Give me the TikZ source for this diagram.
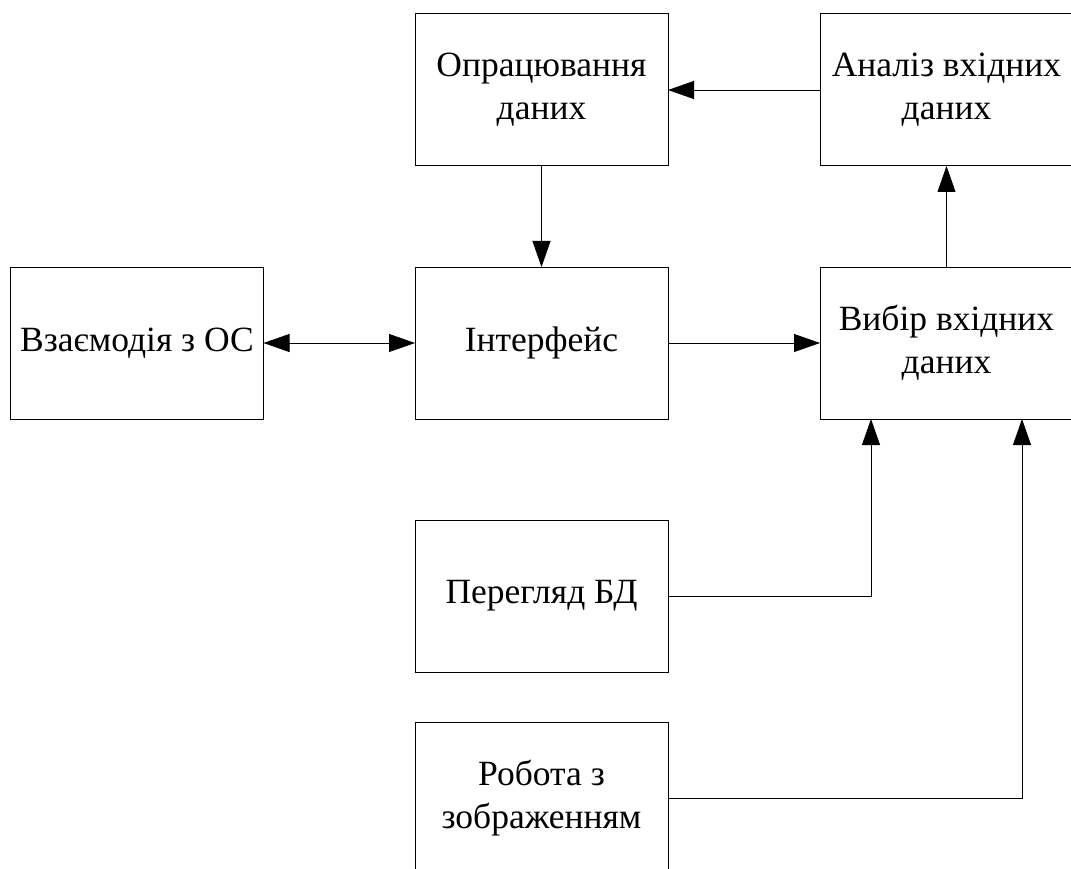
\documentclass[tikz,border=0pt]{standalone}
\usepackage{fontspec}
\setmainfont{Liberation Serif}
\usetikzlibrary{arrows.meta,calc}
\begin{document}
\begin{tikzpicture}[x=1pt,y=-1pt,
  box/.style={draw,line width=1pt,minimum width=253pt,minimum height=152pt,
    inner sep=0pt,outer sep=0pt,align=center,font=\fontsize{35.5}{43}\selectfont},
  arr/.style={line width=0.8pt,-{Triangle[length=26pt,width=18pt]}},
  arrb/.style={line width=0.8pt,{Triangle[length=26pt,width=18pt]}-{Triangle[length=26pt,width=18pt]}}]
\useasboundingbox (0,0) rectangle (1071,869);
\node[box] (op)  at (541.5,90)  {Опрацювання\\даних};
\node[box] (an)  at (946.5,90)  {Аналіз вхідних\\даних};
\node[box] (vz)  at (137,343)   {Взаємодія з ОС};
\node[box] (int) at (541.5,343) {Інтерфейс};
\node[box] (vyb) at (946.5,343) {Вибір вхідних\\даних};
\node[box] (pr)  at (541.5,596) {Перегляд БД};
\node[box] (rob) at (541.5,798.5) {Робота з\\зображенням};
\draw[arr] (an.west) -- (op.east);
\draw[arr] (op.south) -- (int.north);
\draw[arrb] (vz.east) -- (int.west);
\draw[arr] (int.east) -- (vyb.west);
\draw[arr] (vyb.north) -- (an.south);
\draw[arr] (pr.east) -| ([xshift=51pt]vyb.south west);
\draw[arr] (rob.east) -| ([xshift=202pt]vyb.south west);
\end{tikzpicture}
\end{document}
